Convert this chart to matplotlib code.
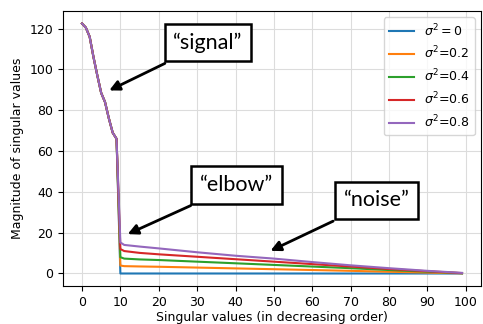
import matplotlib.pyplot as plt

# first 10 singular values (shared "signal" part)
signal_idx = [0, 1, 2, 3, 4, 5, 6, 7, 8, 9]
signal_vals = [122.5, 120.5, 116.0, 106.0, 97.0, 88.5, 84.0, 76.0, 69.0, 66.0]

# noise tail, read at a few indices
tail_idx = [10, 11, 15, 20, 30, 40, 50, 60, 70, 80, 90, 99]
tail_s0 = [0, 0, 0, 0, 0, 0, 0, 0, 0, 0, 0, 0]
tail_s02 = [3.9, 3.6, 3.45, 3.3, 2.9, 2.5, 2.1, 1.7, 1.3, 0.85, 0.45, 0.1]
tail_s04 = [8.0, 7.3, 6.9, 6.6, 5.8, 5.0, 4.2, 3.4, 2.6, 1.7, 0.9, 0.15]
tail_s06 = [12.0, 11.0, 10.1, 9.4, 8.2, 7.0, 5.8, 4.6, 3.4, 2.2, 1.1, 0.2]
tail_s08 = [15.2, 14.0, 13.2, 12.3, 10.4, 8.7, 7.3, 5.6, 4.0, 2.6, 1.3, 0.3]

labels = [r'$\sigma^2 = 0$', r'$\sigma^2$=0.2', r'$\sigma^2$=0.4', r'$\sigma^2$=0.6', r'$\sigma^2$=0.8']
tails = [tail_s0, tail_s02, tail_s04, tail_s06, tail_s08]

fs = 9
fig = plt.figure(figsize=(4.83, 3.24), dpi=100)
ax = fig.add_axes([0.1304, 0.1173, 0.8655, 0.8487])

for lab, tail in zip(labels, tails):
    ax.plot(signal_idx + tail_idx, signal_vals + tail, lw=1.5, label=lab)

ax.set_xticks(range(0, 101, 10))
ax.tick_params(labelsize=fs)
ax.set_xlabel("Singular values (in decreasing order)", fontsize=fs, labelpad=2)
ax.set_ylabel("Magnitude of singular values", fontsize=fs, labelpad=4)
ax.grid(True, color='#dcdcdc', lw=0.8)
ax.legend(loc='upper right', fontsize=fs)

box = dict(boxstyle='square,pad=0.4', fc='white', ec='black', lw=1.8)
arrow = dict(arrowstyle='-|>', color='black', lw=2, mutation_scale=15, shrinkB=0)
tfont = dict(fontsize=15.5, family='Lato', ha='center', va='center', bbox=box)
ax.annotate("\u201csignal\u201d", xy=(7.1, 89.7), xytext=(32.8, 113.2), arrowprops=arrow, **tfont)
ax.annotate("\u201celbow\u201d", xy=(11.9, 19.3), xytext=(40.2, 43.4), arrowprops=arrow, **tfont)
ax.annotate("\u201cnoise\u201d", xy=(49.1, 11.1), xytext=(76.8, 35.8), arrowprops=arrow, **tfont)

fig.savefig("out.png")
